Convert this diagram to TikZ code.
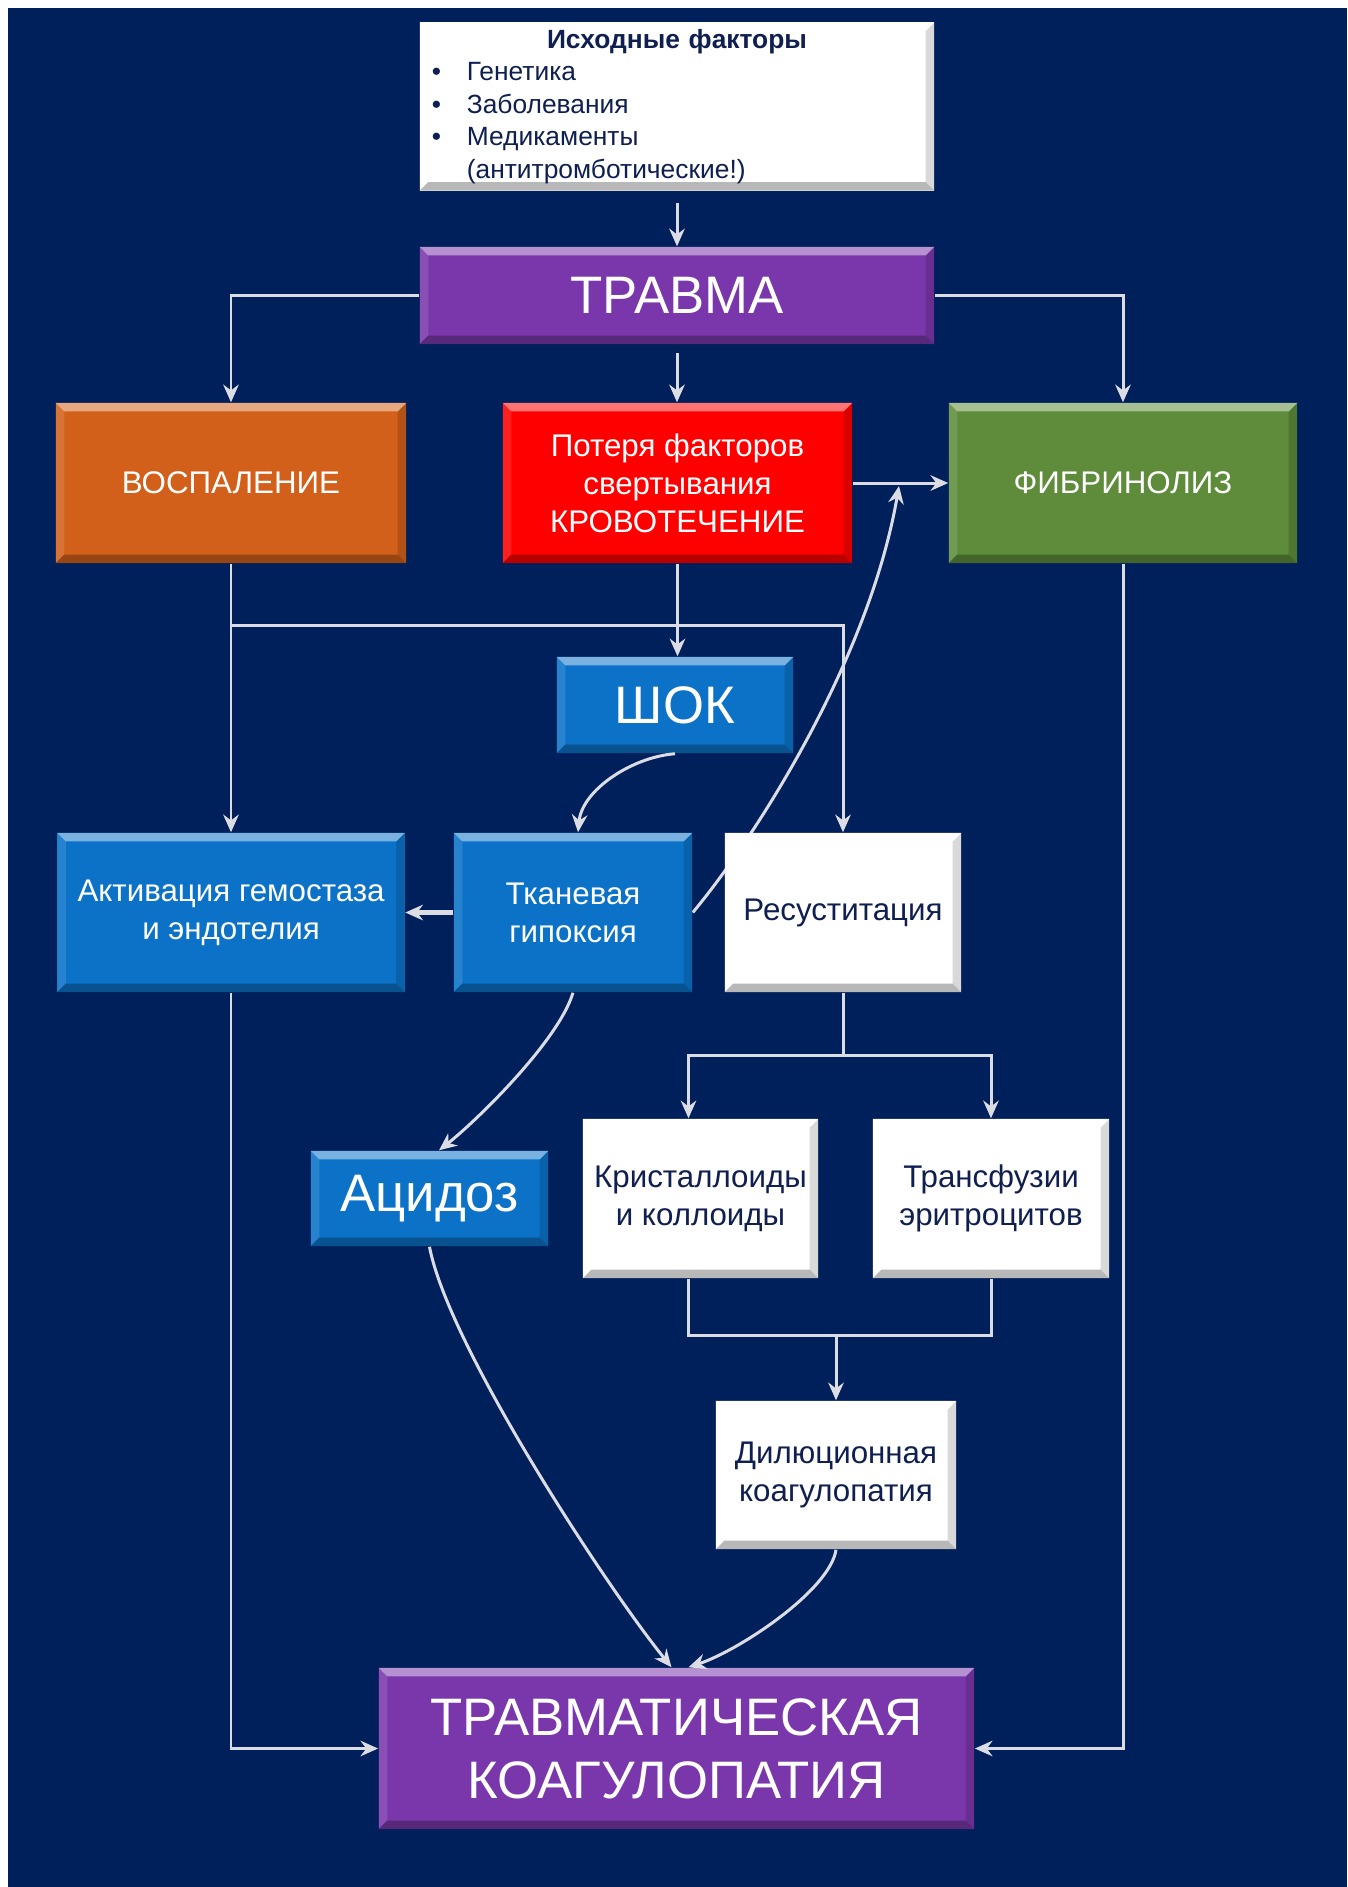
\documentclass[tikz,border=0pt]{standalone}
\usepackage{fontspec}
\setmainfont{Liberation Sans}
\usetikzlibrary{arrows.meta,calc}

\definecolor{navybg}{HTML}{00205C}
\definecolor{trpurple}{HTML}{7A37AB}
\definecolor{inforange}{HTML}{D2601A}
\definecolor{bleedred}{HTML}{FF0000}
\definecolor{fibgreen}{HTML}{5E8C3A}
\definecolor{cellblue}{HTML}{0B72C8}
\definecolor{textnavy}{HTML}{0F1F50}
\definecolor{linegray}{HTML}{DCDCE4}

\pgfdeclarelayer{bg}
\pgfdeclarelayer{back}
\pgfsetlayers{bg,back,main}

\tikzset{
  box/.style={rectangle, draw=none, inner sep=2pt, align=center, text=white,
    font=\fontsize{8.9}{10.8}\selectfont},
  bigbox/.style={box, font=\fontsize{15}{18}\selectfont},
  bevel/.style={fill=#1, path picture={
      \fill[#1!88!white] (path picture bounding box.north west) -- (path picture bounding box.south west)
        -- ([shift={(2.4pt,2.4pt)}]path picture bounding box.south west)
        -- ([shift={(2.4pt,-2.4pt)}]path picture bounding box.north west) -- cycle;
      \fill[#1!85!black] (path picture bounding box.north east) -- (path picture bounding box.south east)
        -- ([shift={(-2.4pt,2.4pt)}]path picture bounding box.south east)
        -- ([shift={(-2.4pt,-2.4pt)}]path picture bounding box.north east) -- cycle;
      \fill[#1!55!white] (path picture bounding box.north west) -- (path picture bounding box.north east)
        -- ([shift={(-2.4pt,-2.4pt)}]path picture bounding box.north east)
        -- ([shift={(2.4pt,-2.4pt)}]path picture bounding box.north west) -- cycle;
      \fill[#1!72!black] (path picture bounding box.south west) -- (path picture bounding box.south east)
        -- ([shift={(-2.4pt,2.4pt)}]path picture bounding box.south east)
        -- ([shift={(2.4pt,2.4pt)}]path picture bounding box.south west) -- cycle;
  }},
  whitebox/.style={box, bevel=white, text=textnavy},
  line/.style={draw=linegray, line width=0.85pt},
  arr/.style={line, -{Stealth[length=5pt,width=4.4pt]}},
}

\begin{document}
\begin{tikzpicture}[x=0.01cm, y=-0.01cm]
\useasboundingbox (0,0) rectangle (1347,1887);
\begin{pgfonlayer}{bg}
  \fill[white] (0,0) rectangle (1347,1887);
  \fill[navybg] (8,8) rectangle (1347,1887);
\end{pgfonlayer}

% boxes
\node[whitebox, minimum width=5.14cm, minimum height=1.61cm, text width=4.9cm, align=left,
  font=\fontsize{7.5}{9.2}\selectfont] (src) at (677,106.5)
  {\makebox[4.9cm]{\bfseries Исходные факторы}\\
   \makebox[0.35cm][l]{\textbullet}Генетика\\
   \makebox[0.35cm][l]{\textbullet}Заболевания\\
   \makebox[0.35cm][l]{\textbullet}Медикаменты\\
   \hspace*{0.35cm}(антитромботические!)};
\node[bigbox, bevel=trpurple, minimum width=5.14cm, minimum height=0.97cm] (trauma) at (677,295.5) {ТРАВМА};
\node[box, bevel=inforange, minimum width=3.5cm, minimum height=1.6cm] (inflam) at (231,483) {ВОСПАЛЕНИЕ};
\node[box, bevel=bleedred, minimum width=3.49cm, minimum height=1.6cm] (loss) at (677.5,483)
  {Потеря факторов\\свертывания\\КРОВОТЕЧЕНИЕ};
\node[box, bevel=fibgreen, minimum width=3.48cm, minimum height=1.6cm] (fibr) at (1123,483) {ФИБРИНОЛИЗ};
\node[bigbox, bevel=cellblue, minimum width=2.36cm, minimum height=0.96cm] (shock) at (675,705) {ШОК};
\node[box, bevel=cellblue, minimum width=3.47cm, minimum height=1.59cm] (activ) at (231,912.5)
  {Активация гемостаза\\и эндотелия};
\node[box, bevel=cellblue, minimum width=2.38cm, minimum height=1.59cm] (hypox) at (573,912.5)
  {Тканевая\\гипоксия};
\node[whitebox, minimum width=2.36cm, minimum height=1.59cm] (resus) at (843,912.5) {Ресуститация};
\node[bigbox, bevel=cellblue, minimum width=2.37cm, minimum height=0.95cm] (acid) at (429.5,1198.5) {Ацидоз};
\node[whitebox, minimum width=2.35cm, minimum height=1.59cm] (cryst) at (700.5,1198.5)
  {Кристаллоиды\\и коллоиды};
\node[whitebox, minimum width=2.36cm, minimum height=1.59cm] (trans) at (991,1198.5)
  {Трансфузии\\эритроцитов};
\node[whitebox, minimum width=2.4cm, minimum height=1.48cm] (dilut) at (836,1475)
  {Дилюционная\\коагулопатия};
\node[bigbox, bevel=trpurple, minimum width=5.95cm, minimum height=1.61cm] (coag) at (676.5,1748.5)
  {ТРАВМАТИЧЕСКАЯ\\КОАГУЛОПАТИЯ};

% junctions
\coordinate (isplit) at (231,625);
\coordinate (rsplit) at (843,1055);
\coordinate (dmerge) at (836,1335);
\coordinate (fmark) at (899,486);

% connectors
\draw[arr, shorten <=3.4pt] (src) -- (trauma);
\draw[arr] (trauma.west) -| (inflam);
\draw[arr] (trauma.east) -| (fibr);
\draw[arr, shorten <=2.3pt] (trauma.south) -- (trauma.south |- loss.north);
\draw[arr] (loss) -- (fibr);
\draw[arr] (inflam) -- (activ);
\draw[arr] (isplit) -| (resus);
\draw[arr] (loss.south) -- (loss.south |- shock.north);
\draw[arr] (shock.south) .. controls (632,757) and (582,790) .. ([xshift=0.05cm]hypox.north);
\draw[arr, line width=1.5pt] (hypox) -- (activ);
\begin{pgfonlayer}{back}
  \draw[arr] (hypox.east) .. controls (755,838) and (869,660) .. (fmark);
\end{pgfonlayer}
\draw[arr] (hypox.south) .. controls (558,1042) and (474,1123) .. ([xshift=0.095cm]acid.north);
\draw[line] (resus) -- (rsplit);
\draw[arr] (rsplit) -| ([xshift=-0.12cm]cryst.north);
\draw[arr] (rsplit) -| (trans);
\draw[line] ([xshift=-0.12cm]cryst.south) |- (dmerge) -| (trans.south);
\draw[arr] (dmerge) -- (dilut);
\draw[arr] (acid.south) .. controls (448,1345) and (605,1585) .. ([xshift=-0.05cm]coag.north);
\draw[arr] (dilut.south) .. controls (830,1590) and (740,1650) .. ([xshift=0.12cm]coag.north);
\draw[arr] (activ) |- (coag);
\draw[arr] (fibr) |- (coag);
\end{tikzpicture}
\end{document}
